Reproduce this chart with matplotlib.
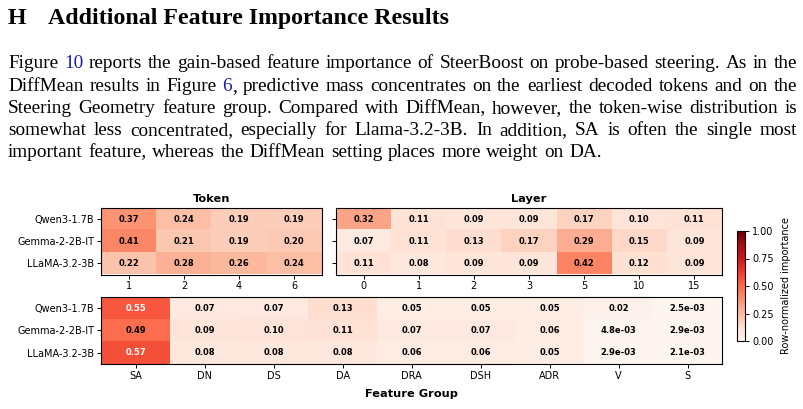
import matplotlib
matplotlib.use("Agg")
import matplotlib.pyplot as plt
import numpy as np
from matplotlib.transforms import IdentityTransform

# ---------------- data ----------------
models = ["Qwen3-1.7B", "Gemma-2-2B-IT", "LLaMA-3.2-3B"]

token_labels = ["1", "2", "4", "6"]
token_qwen = [0.37, 0.24, 0.19, 0.19]
token_gemma = [0.41, 0.21, 0.19, 0.20]
token_llama = [0.22, 0.28, 0.26, 0.24]

layer_labels = ["0", "1", "2", "3", "5", "10", "15"]
layer_qwen = [0.32, 0.11, 0.09, 0.09, 0.17, 0.10, 0.11]
layer_gemma = [0.07, 0.11, 0.13, 0.17, 0.29, 0.15, 0.09]
layer_llama = [0.11, 0.08, 0.09, 0.09, 0.42, 0.12, 0.09]

group_labels = ["SA", "DN", "DS", "DA", "DRA", "DSH", "ADR", "V", "S"]
group_qwen = [0.55, 0.07, 0.07, 0.13, 0.05, 0.05, 0.05, 0.02, 2.5e-3]
group_gemma = [0.49, 0.09, 0.10, 0.11, 0.07, 0.07, 0.06, 4.8e-3, 2.9e-3]
group_llama = [0.57, 0.08, 0.08, 0.08, 0.06, 0.06, 0.05, 2.9e-3, 2.1e-3]

heading_num = "H"
heading = "Additional Feature Importance Results"
para_lines = [
    "Figure {10} reports the gain-based feature importance of SteerBoost on probe-based steering. As in the",
    "DiffMean results in Figure {6}, predictive mass concentrates on the earliest decoded tokens and on the",
    "Steering Geometry feature group. Compared with DiffMean, however, the token-wise distribution is",
    "somewhat less concentrated, especially for Llama-3.2-3B. In addition, SA is often the single most",
    "important feature, whereas the DiffMean setting places more weight on DA.",
]

# ---------------- figure ----------------
W, H = 804, 409
fig = plt.figure(figsize=(W / 100, H / 100), dpi=100)
renderer = fig.canvas.get_renderer()
ID = IdentityTransform()
SERIF = "Liberation Serif"
LINK = "#1c1ca8"

fig.text(8, H - 24, heading_num, transform=ID, family=SERIF, weight="bold", fontsize=17.2)
fig.text(48, H - 24, heading, transform=ID, family=SERIF, weight="bold", fontsize=17.2)


def parse_word(w):
    pieces = []
    buf = ""
    i = 0
    while i < len(w):
        c = w[i]
        if c == "{":
            if buf:
                pieces.append((buf, "black"))
            buf = ""
            j = w.index("}", i)
            pieces.append((w[i + 1:j], LINK))
            i = j + 1
            continue
        buf += c
        i += 1
    if buf:
        pieces.append((buf, "black"))
    return pieces


PFS = 13.9
x0, x1 = 8, 797
base0, lstep = 68.5, 22.2
space_w = None
for li, line in enumerate(para_lines):
    words = line.split()
    objs = []
    widths = []
    for w in words:
        texts = []
        tw = 0
        for s, col in parse_word(w):
            t = fig.text(0, 0, s, transform=ID, family=SERIF, fontsize=PFS, color=col)
            bw = t.get_window_extent(renderer).width
            texts.append((t, bw))
            tw += bw
        objs.append(texts)
        widths.append(tw)
    if space_w is None:
        t = fig.text(0, 0, "a a", transform=ID, family=SERIF, fontsize=PFS)
        t2 = fig.text(0, 0, "aa", transform=ID, family=SERIF, fontsize=PFS)
        space_w = t.get_window_extent(renderer).width - t2.get_window_extent(renderer).width
        t.remove(); t2.remove()
    if li < len(para_lines) - 1:
        gap = (x1 - x0 - sum(widths)) / (len(words) - 1)
    else:
        gap = space_w * 1.15
    x = x0
    y = H - (base0 + li * lstep)
    for texts, tw in zip(objs, widths):
        xx = x
        for t, bw in texts:
            t.set_position((xx, y))
            xx += bw
        x += tw + gap

# ---------------- heatmaps ----------------
plt.rcParams["font.family"] = "DejaVu Sans"


def fx(px):
    return px / W


def fy(py):
    return 1 - py / H


def rect(l, t, r, b):
    return [fx(l), fy(b), fx(r) - fx(l), fy(t) - fy(b)]


def heat(ax, data, xlabels, ylabels):
    data = np.array(data)
    im = ax.imshow(data, cmap="Reds", vmin=0, vmax=1, aspect="auto")
    ax.set_xticks(range(len(xlabels)))
    ax.set_xticklabels(xlabels, fontsize=7)
    ax.set_yticks(range(len(models)))
    if ylabels:
        ax.set_yticklabels(models, fontsize=7)
    else:
        ax.set_yticklabels([])
    ax.tick_params(length=3, width=0.7, pad=2)
    for sp in ax.spines.values():
        sp.set_linewidth(0.8)
    for i in range(data.shape[0]):
        for j in range(data.shape[1]):
            v = data[i, j]
            s = f"{v:.2f}" if v >= 0.01 else f"{v:.1e}"
            ax.text(j, i, s, ha="center", va="center", fontsize=6, weight="bold",
                    color="white" if v > 0.5 else "black")
    return im


ax1 = fig.add_axes(rect(101.5, 208, 321.7, 274.5))
heat(ax1, [token_qwen, token_gemma, token_llama], token_labels, True)
ax1.set_title("Token", fontsize=8.2, weight="bold", pad=4)

ax2 = fig.add_axes(rect(336, 208, 722, 274.5))
heat(ax2, [layer_qwen, layer_gemma, layer_llama], layer_labels, False)
ax2.set_title("Layer", fontsize=8.2, weight="bold", pad=4)

ax3 = fig.add_axes(rect(101.5, 297, 722, 364))
im = heat(ax3, [group_qwen, group_gemma, group_llama], group_labels, True)
ax3.set_xlabel("Feature Group", fontsize=8.2, weight="bold", labelpad=6)

cax = fig.add_axes(rect(737, 231, 745, 341))
cb = fig.colorbar(im, cax=cax)
cb.set_ticks([0, 0.25, 0.5, 0.75, 1.0])
cb.ax.tick_params(labelsize=7, length=3, width=0.7, pad=2)
cb.outline.set_linewidth(0.8)
cb.set_label("Row-normalized importance", fontsize=7, labelpad=5)

fig.savefig("out.png", dpi=100)
